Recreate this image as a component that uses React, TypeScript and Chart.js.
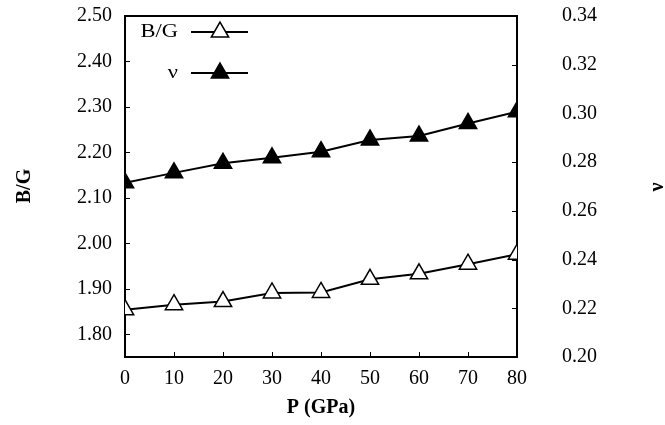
import React, { useEffect, useRef } from "react";
import { Chart, registerables } from "chart.js";

Chart.register(...registerables);

const pressures = [0, 10, 20, 30, 40, 50, 60, 70, 80];
const bgValues = [1.854, 1.865, 1.872, 1.891, 1.892, 1.921, 1.933, 1.954, 1.976];
const nuValues = [0.2715, 0.2756, 0.2795, 0.2818, 0.2843, 0.2891, 0.2907, 0.2959, 0.3007];
const leftTicks = [1.8, 1.9, 2.0, 2.1, 2.2, 2.3, 2.4, 2.5];
const rightTicks = [0.2, 0.22, 0.24, 0.26, 0.28, 0.3, 0.32, 0.34];
const xTicks = [0, 10, 20, 30, 40, 50, 60, 70, 80];
const seriesLabels = ["B/G", "ν"];
const xTitle = "P (GPa)";
const leftTitle = "B/G";
const rightTitle = "ν";

const FONT = "'Liberation Serif', 'Times New Roman', serif";
const MARKER_R = 10;

function triPath(ctx: CanvasRenderingContext2D, x: number, y: number, r: number) {
  let rad = 0;
  ctx.beginPath();
  for (let i = 0; i < 3; i++) {
    const px = x + Math.sin(rad) * r;
    const py = y - Math.cos(rad) * r;
    if (i === 0) ctx.moveTo(px, py);
    else ctx.lineTo(px, py);
    rad += (2 * Math.PI) / 3;
  }
  ctx.closePath();
}

const framePlugin = {
  id: "frame",
  beforeDatasetsDraw(chart: any) {
    const { ctx, chartArea } = chart;
    const { left, right, top, bottom } = chartArea;
    ctx.save();
    ctx.strokeStyle = "#000";
    ctx.lineWidth = 1;
    const tl = 5;
    ctx.beginPath();
    const xs = chart.scales.x;
    xTicks.forEach((v) => {
      const px = Math.round(xs.getPixelForValue(v)) + 0.5;
      ctx.moveTo(px, bottom);
      ctx.lineTo(px, bottom - tl);
    });
    const yl = chart.scales.y;
    leftTicks.forEach((v) => {
      const py = Math.round(yl.getPixelForValue(v)) + 0.5;
      ctx.moveTo(left, py);
      ctx.lineTo(left + tl, py);
    });
    const yr = chart.scales.y1;
    rightTicks.forEach((v) => {
      const py = Math.round(yr.getPixelForValue(v)) + 0.5;
      ctx.moveTo(right, py);
      ctx.lineTo(right - tl, py);
    });
    ctx.stroke();
    ctx.lineWidth = 2;
    ctx.strokeRect(left, top, right - left, bottom - top);
    ctx.restore();
  },
  afterDraw(chart: any) {
    const { ctx, chartArea } = chart;
    const { left, right } = chartArea;
    ctx.save();
    ctx.fillStyle = "#000";
    ctx.font = `bold 20px ${FONT}`;
    ctx.textAlign = "center";
    ctx.textBaseline = "middle";
    // x title
    ctx.fillText(xTitle, (left + right) / 2, 408);
    // left title
    ctx.save();
    ctx.translate(25, 186);
    ctx.rotate(-Math.PI / 2);
    ctx.fillText(leftTitle, 0, 0);
    ctx.restore();
    // right title
    ctx.save();
    ctx.translate(658, 187);
    ctx.rotate(-Math.PI / 2);
    ctx.fillText(rightTitle, 0, 0);
    ctx.restore();

    // legend
    const rows = [
      { label: seriesLabels[0], y: 32, filled: false },
      { label: seriesLabels[1], y: 73, filled: true },
    ];
    rows.forEach((row) => {
      ctx.save();
      ctx.font = `18px ${FONT}`;
      ctx.textAlign = "right";
      ctx.fillStyle = "#000";
      ctx.translate(178, row.y);
      ctx.scale(1.25, 1);
      ctx.fillText(row.label, 0, 0);
      ctx.restore();
      ctx.lineWidth = 2;
      ctx.strokeStyle = "#000";
      ctx.beginPath();
      ctx.moveTo(191, row.y);
      ctx.lineTo(248, row.y);
      ctx.stroke();
      triPath(ctx, 220, row.y, MARKER_R);
      ctx.fillStyle = row.filled ? "#000" : "#fff";
      ctx.fill();
      ctx.lineWidth = 1.5;
      ctx.stroke();
    });
    ctx.restore();
  },
};

function zeroPad(s: any) {
  s.paddingTop = 0;
  s.paddingBottom = 0;
}

export default function App() {
  const ref = useRef<HTMLCanvasElement | null>(null);
  useEffect(() => {
    if (!ref.current) return;
    const chart = new Chart(ref.current, {
      type: "line",
      data: {
        datasets: [
          {
            label: seriesLabels[0],
            data: pressures.map((p, i) => ({ x: p, y: bgValues[i] })),
            yAxisID: "y",
            borderColor: "#000",
            borderWidth: 2,
            pointStyle: "triangle",
            pointRadius: MARKER_R,
            pointBackgroundColor: "#fff",
            pointBorderColor: "#000",
            pointBorderWidth: 1.5,
            tension: 0,
          },
          {
            label: seriesLabels[1],
            data: pressures.map((p, i) => ({ x: p, y: nuValues[i] })),
            yAxisID: "y1",
            borderColor: "#000",
            borderWidth: 2,
            pointStyle: "triangle",
            pointRadius: MARKER_R,
            pointBackgroundColor: "#000",
            pointBorderColor: "#000",
            pointBorderWidth: 1.5,
            tension: 0,
          },
        ],
      },
      options: {
        animation: false,
        responsive: false,
        layout: { padding: { top: 16, left: 0, right: 0, bottom: 0 } },
        plugins: { legend: { display: false }, tooltip: { enabled: false } },
        scales: {
          x: {
            type: "linear",
            min: 0,
            max: 80,
            afterBuildTicks: (s: any) => {
              s.ticks = xTicks.map((v) => ({ value: v }));
            },
            afterFit: (s: any) => {
              s.height = 68;
              s.paddingLeft = 0;
              s.paddingRight = 0;
            },
            grid: { display: false, drawTicks: false },
            border: { display: false },
            ticks: {
              color: "#000",
              font: { family: FONT, size: 20 },
              padding: 10,
              maxRotation: 0,
              callback: (v: any) => String(v),
            },
          },
          y: {
            type: "linear",
            position: "left",
            min: 1.75,
            max: 2.5,
            afterBuildTicks: (s: any) => {
              s.ticks = leftTicks.map((v) => ({ value: v }));
            },
            afterFit: (s: any) => {
              s.width = 125;
              zeroPad(s);
            },
            grid: { display: false, drawTicks: false },
            border: { display: false },
            ticks: {
              color: "#000",
              font: { family: FONT, size: 20 },
              padding: 13,
              callback: (v: any) => Number(v).toFixed(2),
            },
          },
          y1: {
            type: "linear",
            position: "right",
            min: 0.2,
            max: 0.34,
            afterBuildTicks: (s: any) => {
              s.ticks = rightTicks.map((v) => ({ value: v }));
            },
            afterFit: (s: any) => {
              s.width = 148;
              zeroPad(s);
            },
            grid: { display: false, drawTicks: false },
            border: { display: false },
            ticks: {
              color: "#000",
              font: { family: FONT, size: 20 },
              padding: 45,
              callback: (v: any) => Number(v).toFixed(2),
            },
          },
        },
      },
      plugins: [framePlugin],
    });
    return () => chart.destroy();
  }, []);
  return (
    <div style={{ position: "fixed", left: 0, top: 0, width: 665, height: 425, background: "#fff" }}>
      <canvas ref={ref} width={665} height={425} style={{ width: 665, height: 425 }} />
    </div>
  );
}
